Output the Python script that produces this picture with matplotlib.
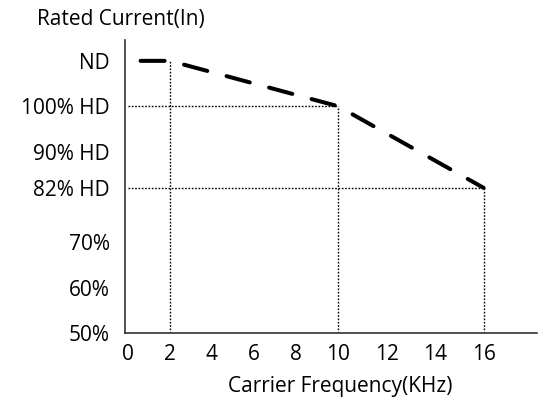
import matplotlib
matplotlib.use("Agg")
import matplotlib.pyplot as plt
import numpy as np

# Data
freq = [0.6, 2, 10, 16]
current = [110, 110, 100, 82]
xtick_vals = [0, 2, 4, 6, 8, 10, 12, 14, 16]
ytick_vals = [50, 60, 70, 82, 90, 100, 110]
ytick_labels = ['50%', '60%', '70%', '82% HD', '90% HD', '100% HD', 'ND']
ylabel_text = 'Rated Current(In)'
xlabel_text = 'Carrier Frequency(KHz)'

# Non-uniform x scale of the original drawing (piecewise linear)
scale_knots = [-5, 0, 10, 16, 30]
scale_warp = [-5.0, 0.0, 10.0, 16.93, 33.1]


def fwd(x):
    return np.interp(x, scale_knots, scale_warp)


def inv(w):
    return np.interp(w, scale_warp, scale_knots)


plt.rcParams['font.family'] = ['Open Sans', 'DejaVu Sans']
plt.rcParams['lines.scale_dashes'] = False

fig = plt.figure(figsize=(5.38, 4.11), dpi=100)
ax = fig.add_axes([125 / 538, 78 / 411, 412 / 538, 293 / 411])
ax.set_xscale('function', functions=(fwd, inv))
ax.set_xlim(inv(-0.14), inv(19.47))
ax.set_ylim(50, 114.6)

# dotted guides
for x, y in zip(freq[1:], current[1:]):
    ax.plot([x, x], [50, y], color='black', lw=1.0, ls=(0, (1.2, 1.2)))
for x, y in zip(freq[2:], current[2:]):
    ax.plot([0, x], [y, y], color='black', lw=1.0, ls=(0, (1.2, 1.2)))

# main dashed line
ax.plot(freq, current, color='black', lw=2.9, ls=(0, (17.3, 14.4)),
        dash_capstyle='round', solid_capstyle='round')

ax.set_xticks(xtick_vals)
ax.set_xticklabels([str(v) for v in xtick_vals])
ax.xaxis.set_minor_locator(matplotlib.ticker.NullLocator())
ax.set_yticks(ytick_vals)
ax.set_yticklabels(ytick_labels)
ax.tick_params(axis='both', length=0, labelsize=15, colors='black')
ax.tick_params(axis='y', pad=11)
ax.tick_params(axis='x', pad=8)

for s in ['top', 'right']:
    ax.spines[s].set_visible(False)
for s in ['left', 'bottom']:
    ax.spines[s].set_color('#333333')
    ax.spines[s].set_linewidth(1.2)

fig.text(37 / 538, 1 - 20 / 411, ylabel_text, fontsize=15, ha='left', va='center')
fig.text(340 / 538, 1 - 386 / 411, xlabel_text, fontsize=15, ha='center', va='center')

fig.savefig('out.png', dpi=100)
